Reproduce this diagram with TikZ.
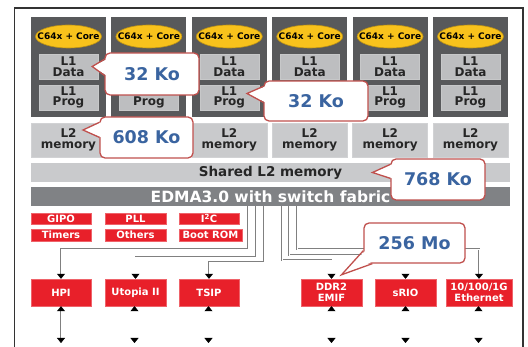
\documentclass[tikz,border=0pt]{standalone}
\usepackage{fontspec}
\setsansfont{DejaVu Sans}
\usetikzlibrary{shapes.geometric,arrows.meta}

\definecolor{coregray}{HTML}{58595B}
\definecolor{coreyellow}{HTML}{F8C21C}
\definecolor{memgray}{HTML}{BDBEC0}
\definecolor{lightmem}{HTML}{C9CACC}
\definecolor{edmagray}{HTML}{808285}
\definecolor{portred}{HTML}{E8202A}
\definecolor{noteblue}{HTML}{3A64A0}
\definecolor{noteedge}{HTML}{C0504D}

\begin{document}
\begin{tikzpicture}[
	x=10pt, y=10pt,
	core/.style={
		rectangle,
		fill=coregray,
		minimum width=75pt,
		minimum height=100pt,
		inner sep=0pt
	},
	cpu/.style={
		ellipse,
		fill=coreyellow,
		draw=coreyellow!75!black,
		line width=0.6pt,
		minimum width=66pt,
		minimum height=23pt,
		inner xsep=-8pt,
		inner ysep=0pt,
		font=\sffamily\bfseries\fontsize{9}{9}\selectfont
	},
	lone/.style={
		rectangle,
		fill=memgray,
		draw=memgray!85!white,
		align=center,
		minimum width=59pt,
		minimum height=25pt,
		inner sep=0pt,
		text=black!85,
		font=\sffamily\bfseries\fontsize{12}{10.5}\selectfont
	},
	ltwo/.style={
		lone,
		fill=lightmem,
		draw=lightmem!85!white,
		minimum width=75pt,
		minimum height=34pt
	},
	bar/.style={
		rectangle,
		fill=lightmem,
		minimum width=479pt,
		minimum height=19pt,
		inner sep=0pt,
		text=black!85,
		font=\sffamily\bfseries\fontsize{13.5}{13.5}\selectfont
	},
	periph/.style={
		rectangle,
		fill=portred,
		draw=portred!70!white,
		minimum width=60pt,
		minimum height=11.5pt,
		inner sep=0pt,
		align=center,
		text=white,
		font=\sffamily\bfseries\fontsize{10}{10}\selectfont
	},
	port/.style={
		periph,
		minimum height=27pt,
		font=\sffamily\bfseries\fontsize{10}{10.5}\selectfont
	},
	link/.style={
		draw=black!50,
		double=white,
		double distance=0.7pt,
		line width=0.45pt,
		-{Triangle[width=8pt,length=5pt,black]}
	},
	io/.style={
		link,
		{Triangle[width=8pt,length=5pt,black]}-{Triangle[width=8pt,length=5pt,black]}
	},
	note/.style={
		rectangle,
		draw=noteedge,
		line width=1.3pt,
		fill=white,
		rounded corners=5pt,
		inner sep=0pt,
		text=noteblue,
		font=\sffamily\bfseries\fontsize{17.5}{17.5}\selectfont
	},
	tail/.style={draw=noteedge, line width=1.3pt, line join=miter}
]

\useasboundingbox (0,0) rectangle (52.8,-34.7);

% Frame
\draw[line width=1.6pt, black!80] (1.45,-34.7) -- (1.45,-0.8) -- (52.3,-0.8) -- (52.3,-34.7);

% Core 1
\node[core] (core1) at (6.85,-6.7) {};
\node[cpu] (cpu1) at (6.85,-3.65) {C64x + Core};
\node[lone] (l1d1) at (6.85,-6.65) {L1\\Data};
\node[lone] (l1p1) at (6.85,-9.75) {L1\\Prog};
\node[ltwo] (l2c1) at (6.85,-14.0) {L2\\memory};

% Core 2
\node[core] (core2) at (14.89,-6.7) {};
\node[cpu] (cpu2) at (14.89,-3.65) {C64x + Core};
\node[lone] (l1d2) at (14.89,-6.65) {L1\\Data};
\node[lone] (l1p2) at (14.89,-9.75) {L1\\Prog};
\node[ltwo] (l2c2) at (14.89,-14.0) {L2\\memory};

% Core 3
\node[core] (core3) at (22.93,-6.7) {};
\node[cpu] (cpu3) at (22.93,-3.65) {C64x + Core};
\node[lone] (l1d3) at (22.93,-6.65) {L1\\Data};
\node[lone] (l1p3) at (22.93,-9.75) {L1\\Prog};
\node[ltwo] (l2c3) at (22.93,-14.0) {L2\\memory};

% Core 4
\node[core] (core4) at (30.97,-6.7) {};
\node[cpu] (cpu4) at (30.97,-3.65) {C64x + Core};
\node[lone] (l1d4) at (30.97,-6.65) {L1\\Data};
\node[lone] (l1p4) at (30.97,-9.75) {L1\\Prog};
\node[ltwo] (l2c4) at (30.97,-14.0) {L2\\memory};

% Core 5
\node[core] (core5) at (39.01,-6.7) {};
\node[cpu] (cpu5) at (39.01,-3.65) {C64x + Core};
\node[lone] (l1d5) at (39.01,-6.65) {L1\\Data};
\node[lone] (l1p5) at (39.01,-9.75) {L1\\Prog};
\node[ltwo] (l2c5) at (39.01,-14.0) {L2\\memory};

% Core 6
\node[core] (core6) at (47.05,-6.7) {};
\node[cpu] (cpu6) at (47.05,-3.65) {C64x + Core};
\node[lone] (l1d6) at (47.05,-6.65) {L1\\Data};
\node[lone] (l1p6) at (47.05,-9.75) {L1\\Prog};
\node[ltwo] (l2c6) at (47.05,-14.0) {L2\\memory};

% Shared memory and EDMA
\node[bar] (shared) at (27.05,-17.25) {Shared L2 memory};
\node[bar, fill=edmagray, text=white, font=\sffamily\bfseries\fontsize{15.5}{15.5}\selectfont] (edma) at (27.05,-19.65) {EDMA3.0 with switch fabric};

% Peripherals
\node[periph] (gipo) at (6.1,-21.85) {GIPO};
\node[periph, minimum height=12pt] (timers) at (6.1,-23.5) {Timers};
\node[periph, minimum width=61pt] (pll) at (13.55,-21.85) {PLL};
\node[periph, minimum width=61pt, minimum height=12pt] (others) at (13.55,-23.5) {Others};
\node[periph] (iic) at (20.9,-21.85) {I\textsuperscript{2}C};
\node[periph, minimum width=63pt, minimum height=12pt] (boot) at (21.05,-23.5) {Boot ROM};

% Ports
\node[port] (hpi) at (6.1,-29.25) {HPI};
\node[port, minimum width=61pt] (utopia) at (13.55,-29.25) {Utopia II};
\node[port] (tsip) at (20.9,-29.25) {TSIP};
\node[port, minimum width=61pt] (ddr) at (33.15,-29.25) {DDR2\\EMIF};
\node[port, minimum width=61pt] (srio) at (40.55,-29.25) {sRIO};
\node[port, minimum width=66pt] (eth) at (47.9,-29.25) {10/100/1G\\Ethernet};

% Taps on the EDMA bar
\coordinate (t1) at (24.8,-20.6);
\coordinate (t2) at (25.6,-20.6);
\coordinate (t3) at (26.4,-20.6);
\coordinate (t4) at (28.2,-20.6);
\coordinate (t5) at (28.9,-20.6);
\coordinate (t6) at (29.7,-20.6);

% Connections EDMA -> ports
\draw[link] (t1) -- ++(0,-4.3) -| (hpi.north);
\draw[link] (t2) -- ++(0,-5.1) -| (utopia.north);
\draw[link] (t3) -- ++(0,-5.6) -| (tsip.north);
\draw[link] (t4) -- ++(0,-5.4) -| (ddr.north);
\draw[link] (t5) -- ++(0,-4.9) -| (srio.north);
\draw[link] (t6) -- ++(0,-4.3) -| (eth.north);

% External pins
\coordinate (hpiout) at (6.1,-34.3);
\coordinate (utopiaout) at (13.45,-34.3);
\coordinate (tsipout) at (20.85,-34.3);
\coordinate (ddrout) at (33.15,-34.3);
\coordinate (srioout) at (40.55,-34.3);
\coordinate (ethout) at (47.85,-34.3);
\draw[io] (hpi.south -| hpiout) -- (hpiout);
\draw[io] (utopia.south -| utopiaout) -- (utopiaout);
\draw[io] (tsip.south -| tsipout) -- (tsipout);
\draw[io] (ddr.south -| ddrout) -- (ddrout);
\draw[io] (srio.south -| srioout) -- (srioout);
\draw[io] (eth.south -| ethout) -- (ethout);

% Callouts
\node[note, minimum width=94pt, minimum height=42pt] (kol1) at (15.2,-7.4) {32 Ko};
\node[note, minimum width=104pt, minimum height=40pt] (kol2) at (31.6,-10.1) {32 Ko};
\node[note, minimum width=93pt, minimum height=41pt] (kol3) at (14.65,-13.75) {608 Ko};
\node[note, minimum width=94pt, minimum height=41pt] (kshared) at (43.8,-17.95) {768 Ko};
\node[note, minimum width=101pt, minimum height=40pt] (kddr) at (41.45,-24.3) {256 Mo};

% Callout tails
\fill[white] ([xshift=2pt,yshift=-7pt]kol1.north west) -- ([xshift=-6pt]l1d1.east) -- ([xshift=2pt,yshift=-23pt]kol1.north west) -- cycle;
\draw[tail] ([yshift=-7pt]kol1.north west) -- ([xshift=-6pt]l1d1.east) -- ([yshift=-23pt]kol1.north west);
\fill[white] ([xshift=2pt,yshift=-6pt]kol2.north west) -- ([xshift=-12pt,yshift=4pt]l1p3.east) -- ([xshift=2pt,yshift=-22pt]kol2.north west) -- cycle;
\draw[tail] ([yshift=-6pt]kol2.north west) -- ([xshift=-12pt,yshift=4pt]l1p3.east) -- ([yshift=-22pt]kol2.north west);
\fill[white] ([xshift=2pt,yshift=-6pt]kol3.north west) -- ([xshift=14.5pt,yshift=10pt]l2c1.center) -- ([xshift=2pt,yshift=-21pt]kol3.north west) -- cycle;
\draw[tail] ([yshift=-6pt]kol3.north west) -- ([xshift=14.5pt,yshift=10pt]l2c1.center) -- ([yshift=-21pt]kol3.north west);
\fill[white] ([xshift=2pt,yshift=-6pt]kshared.north west) -- ([xshift=102pt]shared.center) -- ([xshift=2pt,yshift=-20pt]kshared.north west) -- cycle;
\draw[tail] ([yshift=-6pt]kshared.north west) -- ([xshift=102pt]shared.center) -- ([yshift=-20pt]kshared.north west);
\fill[white] ([xshift=2pt,yshift=13pt]kddr.south west) -- ([xshift=10pt,yshift=4pt]ddr.north) -- ([xshift=9pt,yshift=2pt]kddr.south west) -- cycle;
\draw[tail] ([yshift=13pt]kddr.south west) -- ([xshift=10pt,yshift=4pt]ddr.north) -- ([xshift=9pt]kddr.south west);

\end{tikzpicture}
\end{document}
